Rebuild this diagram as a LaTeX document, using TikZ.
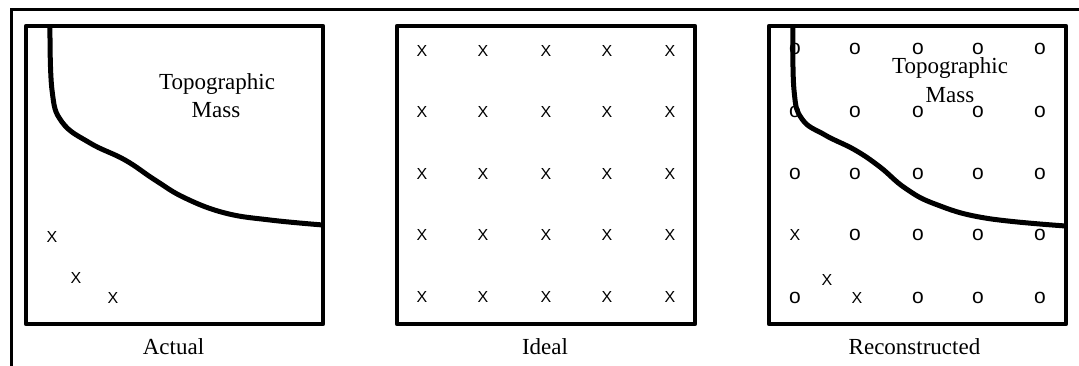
\documentclass[tikz,border=0pt]{standalone}
\usepackage{fontspec}
\setmainfont{Liberation Serif}
\newfontfamily\markfont{Liberation Sans}
\begin{document}
\begin{tikzpicture}[x=1pt,y=-1pt,
  frameline/.style={line width=3pt},
  panel/.style={line width=4.5pt, line join=round},
  massline/.style={line width=5pt},
  lbl/.style={font=\fontsize{23}{28}\selectfont, inner sep=0, anchor=base},
  xm/.style={font=\markfont\fontsize{16}{16}\selectfont, inner sep=0},
  om/.style={font=\markfont\fontsize{21}{21}\selectfont, inner sep=0}]
\useasboundingbox (0,0) rectangle (1079,365);
% outer frame (only top and left edges visible)
\draw[frameline] (11.5,366) -- (11.5,9.5) -- (1080,9.5);

% ---------------- Panel 1: Actual
\draw[panel] (26,26) rectangle (323,324);
\draw[massline] plot[smooth, tension=0.7] coordinates {(50,26) (52,90) (62,122) (90,143) (125,160) (155,180) (185,198) (225,213) (270,220) (323,225)};
\node[lbl] (topo1) at (217,89) {Topographic};
\node[lbl] (mass1) at (216,117) {Mass};
\node[xm] (a1) at (52,237) {X};
\node[xm] (a2) at (76,278) {X};
\node[xm] (a3) at (113,298) {X};
\node[lbl] (lab1) at (173.5,354) {Actual};

% ---------------- Panel 2: Ideal
\draw[panel] (397,26) rectangle (695,324);
\foreach \c [count=\i] in {422,483,546,607,670}
  \foreach \r [count=\j] in {51,112,174,235,297}
    \node[xm] (i\i\j) at (\c,\r) {X};
\node[lbl] (lab2) at (545,354) {Ideal};

% ---------------- Panel 3: Reconstructed
\draw[panel] (769,26) rectangle (1066,324);
\foreach \c [count=\i] in {795,855,918,978,1040}
  \foreach \r [count=\j] in {49,112,174}
    \node[om] (r\i\j) at (\c,\r) {o};
\node[xm] (r14) at (795,235) {X};
\foreach \c [count=\i from 2] in {855,918,978,1040}
  \node[om] (r\i4) at (\c,235) {o};
\node[om] (r15) at (795,298) {o};
\node[xm] (r25) at (857,298) {X};
\foreach \c [count=\i from 3] in {918,978,1040}
  \node[om] (r\i5) at (\c,298) {o};
\node[xm] (rx) at (827,280) {X};
\draw[massline] plot[smooth, tension=0.7] coordinates {(793,26) (794,90) (802,119) (825,135) (855,150) (880,167) (905,188) (935,204) (985,218) (1066,226)};
\node[lbl] (topo3) at (950,73) {Topographic};
\node[lbl] (mass3) at (950,102) {Mass};
\node[lbl] (lab3) at (914.5,354) {Reconstructed};
\end{tikzpicture}
\end{document}
